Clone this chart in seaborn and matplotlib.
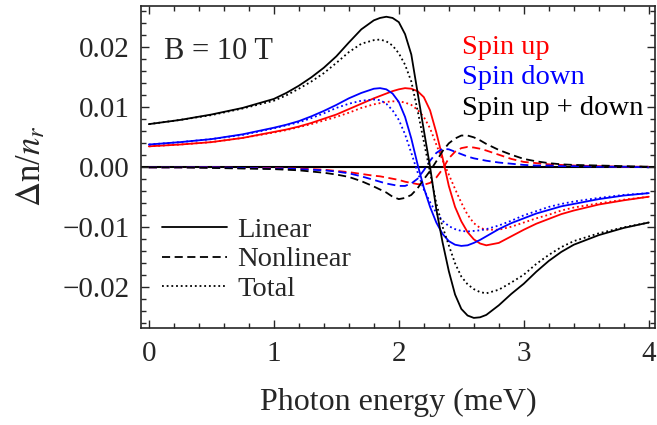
import numpy as np
import pandas as pd
import matplotlib
matplotlib.use("Agg")
import matplotlib.pyplot as plt
from matplotlib.lines import Line2D
from matplotlib.ticker import MultipleLocator, FuncFormatter
import seaborn as sns

# photon energy grid (meV) and curves
energy = [0, 0.25, 0.5, 0.75, 1.0, 1.1, 1.2, 1.3, 1.4, 1.5, 1.6, 1.7, 1.8, 1.85, 1.9,
          1.95, 2.0, 2.05, 2.1, 2.15, 2.2, 2.25, 2.3, 2.35, 2.4, 2.45, 2.5, 2.55, 2.6,
          2.65, 2.7, 2.8, 2.9, 3.0, 3.1, 3.2, 3.3, 3.4, 3.6, 3.8, 4.0]

# spin up + down
sum_lin = [0.0072, 0.0079, 0.0088, 0.0099, 0.0114, 0.0124, 0.0136, 0.0150, 0.0166, 0.0185,
           0.0208, 0.0230, 0.0245, 0.0249, 0.0251, 0.0249, 0.0242, 0.0222, 0.0188, 0.0125,
           0.0062, 0.0001, -0.0070, -0.0125, -0.0173, -0.0212, -0.0236, -0.0247, -0.0251,
           -0.0250, -0.0246, -0.0230, -0.0211, -0.0194, -0.0174, -0.0156, -0.0141, -0.0129,
           -0.0113, -0.0101, -0.0092]
sum_nl = [0.0, 0.0, -0.0001, -0.0002, -0.0003, -0.0004, -0.0005, -0.0007, -0.0009, -0.0012,
          -0.0016, -0.0023, -0.0032, -0.0037, -0.0042, -0.0049, -0.0053, -0.0051, -0.0046,
          -0.0035, -0.0020, -0.0006, 0.0010, 0.0027, 0.0040, 0.0048, 0.0053, 0.0053, 0.0050,
          0.0045, 0.0039, 0.0029, 0.0021, 0.0014, 0.0010, 0.0007, 0.0005, 0.0004, 0.0003,
          0.0002, 0.0001]
sum_tot = [0.0072, 0.0079, 0.0087, 0.0098, 0.0111, 0.0120, 0.0131, 0.0143, 0.0157, 0.0174,
           0.0192, 0.0206, 0.0212, 0.0213, 0.0210, 0.0203, 0.0190, 0.0171, 0.0143, 0.0095,
           0.0043, -0.0008, -0.0060, -0.0099, -0.0130, -0.0160, -0.0182, -0.0195, -0.0203,
           -0.0208, -0.0210, -0.0204, -0.0192, -0.0179, -0.0161, -0.0146, -0.0133, -0.0123,
           -0.0110, -0.0100, -0.0092]

# spin up
up_lin = [0.0035, 0.0038, 0.0042, 0.0049, 0.0059, 0.0063, 0.0068, 0.0074, 0.0081, 0.0088,
          0.0097, 0.0106, 0.0115, 0.0119, 0.0123, 0.0127, 0.0130, 0.0132, 0.0131, 0.0127,
          0.0117, 0.0095, 0.0058, 0.0016, -0.0031, -0.0066, -0.0090, -0.0108, -0.0120,
          -0.0127, -0.0130, -0.0126, -0.0115, -0.0104, -0.0094, -0.0086, -0.0078, -0.0072,
          -0.0062, -0.0055, -0.0049]
up_nl = [0.0, 0.0, 0.0, -0.0001, -0.0001, -0.0002, -0.0002, -0.0003, -0.0004, -0.0006,
         -0.0008, -0.0011, -0.0014, -0.0015, -0.0017, -0.0019, -0.0021, -0.0024, -0.0026,
         -0.0028, -0.0029, -0.0026, -0.0017, -0.0003, 0.0015, 0.0026, 0.0032, 0.0034, 0.0033,
         0.0031, 0.0028, 0.0021, 0.0014, 0.0009, 0.0007, 0.0005, 0.0004, 0.0003, 0.0002,
         0.0001, 0.0001]
up_tot = [0.0035, 0.0038, 0.0042, 0.0049, 0.0058, 0.0062, 0.0067, 0.0072, 0.0078, 0.0084,
          0.0091, 0.0099, 0.0105, 0.0107, 0.0109, 0.0110, 0.0110, 0.0108, 0.0104, 0.0096,
          0.0084, 0.0065, 0.0038, 0.0012, -0.0012, -0.0036, -0.0059, -0.0079, -0.0093,
          -0.0101, -0.0104, -0.0104, -0.0099, -0.0092, -0.0085, -0.0079, -0.0072, -0.0067,
          -0.0060, -0.0054, -0.0049]

# spin down
down_lin = [0.0038, 0.0042, 0.0047, 0.0055, 0.0066, 0.0071, 0.0077, 0.0085, 0.0094, 0.0104,
            0.0115, 0.0124, 0.0131, 0.0132, 0.0130, 0.0123, 0.0109, 0.0084, 0.0048, 0.0005,
            -0.0034, -0.0066, -0.0092, -0.0111, -0.0123, -0.0129, -0.0131, -0.0130, -0.0126,
            -0.0121, -0.0115, -0.0103, -0.0093, -0.0085, -0.0077, -0.0071, -0.0065, -0.0061,
            -0.0053, -0.0047, -0.0043]
down_nl = [0.0, 0.0, 0.0, -0.0001, -0.0002, -0.0002, -0.0003, -0.0004, -0.0005, -0.0007,
           -0.0010, -0.0015, -0.0021, -0.0024, -0.0027, -0.0029, -0.0031, -0.0031, -0.0027,
           -0.0019, -0.0005, 0.0011, 0.0024, 0.0031, 0.0030, 0.0026, 0.0022, 0.0018, 0.0015,
           0.0013, 0.0011, 0.0008, 0.0006, 0.0004, 0.0003, 0.0003, 0.0002, 0.0002, 0.0001,
           0.0001, 0.0]
down_tot = [0.0038, 0.0042, 0.0047, 0.0054, 0.0065, 0.0070, 0.0075, 0.0082, 0.0090, 0.0099,
            0.0106, 0.0111, 0.0113, 0.0112, 0.0106, 0.0095, 0.0079, 0.0055, 0.0024, -0.0008,
            -0.0037, -0.0058, -0.0076, -0.0089, -0.0098, -0.0103, -0.0106, -0.0107, -0.0106,
            -0.0105, -0.0103, -0.0097, -0.0089, -0.0080, -0.0073, -0.0066, -0.0061, -0.0057,
            -0.0051, -0.0046, -0.0043]

sns.set_style("ticks")
plt.rcParams["font.family"] = ["Liberation Serif", "DejaVu Serif"]
plt.rcParams["mathtext.fontset"] = "stix"

fig = plt.figure(figsize=(6.57, 4.25), dpi=100)
ax = fig.add_axes([0.214, 0.2294, 0.783, 0.7566])

dash = (0, (4.5, 2.5))
dot = (0, (1, 1.6))
curves = [
    (up_lin, "red", "-"), (up_nl, "red", dash), (up_tot, "red", dot),
    (down_lin, "blue", "-"), (down_nl, "blue", dash), (down_tot, "blue", dot),
    (sum_lin, "black", "-"), (sum_nl, "black", dash), (sum_tot, "black", dot),
]
for vals, col, ls in curves:
    sns.lineplot(x=energy, y=vals, ax=ax, color=col, linestyle=ls, lw=1.3)

ax.axhline(0, color="black", lw=1.5, zorder=0)

ax.set_xlim(-0.066, 4.05)
ax.set_ylim(-0.0267, 0.0269)
ax.xaxis.set_major_locator(MultipleLocator(1))
ax.xaxis.set_minor_locator(MultipleLocator(0.2))
ax.yaxis.set_major_locator(MultipleLocator(0.01))
ax.yaxis.set_minor_locator(MultipleLocator(0.002))
ax.xaxis.set_major_formatter(FuncFormatter(lambda v, p: f"{v:.0f}"))
ax.yaxis.set_major_formatter(FuncFormatter(
    lambda v, p: ("\u2212" if v < -1e-9 else "") + f"{abs(v):.2f}"))
ax.tick_params(which="both", direction="in", top=True, right=True, labelsize=21, width=1)
ax.tick_params(which="major", length=6)
ax.tick_params(which="minor", length=3.5)
ax.tick_params(axis="x", pad=10)
ax.tick_params(axis="y", pad=8)
for s in ax.spines.values():
    s.set_linewidth(1.2)

ax.set_xlabel("Photon energy (meV)", fontsize=23, labelpad=15)
ax.set_ylabel(r"$\Delta$n/$n_r$", fontsize=25, labelpad=10)

ax.text(0.045, 0.857, "B = 10 T", transform=ax.transAxes, fontsize=22, va="center")
ax.text(0.625, 0.870, "Spin up", transform=ax.transAxes, fontsize=20.5, va="center",
        color="red")
ax.text(0.625, 0.776, "Spin down", transform=ax.transAxes, fontsize=20.5, va="center",
        color="blue")
ax.text(0.625, 0.680, "Spin up + down", transform=ax.transAxes, fontsize=20.5, va="center",
        color="black")

handles = [Line2D([], [], color="black", lw=1.3, linestyle="-"),
           Line2D([], [], color="black", lw=1.3, linestyle=dash),
           Line2D([], [], color="black", lw=1.3, linestyle=dot)]
ax.legend(handles, ["Linear", "Nonlinear", "Total"], loc="upper left",
          bbox_to_anchor=(0.0414, 0.343), frameon=False, fontsize=20.5, handlelength=2.3,
          handletextpad=0.35, labelspacing=0.12, borderpad=0, borderaxespad=0)

fig.savefig("out.png", dpi=100)
